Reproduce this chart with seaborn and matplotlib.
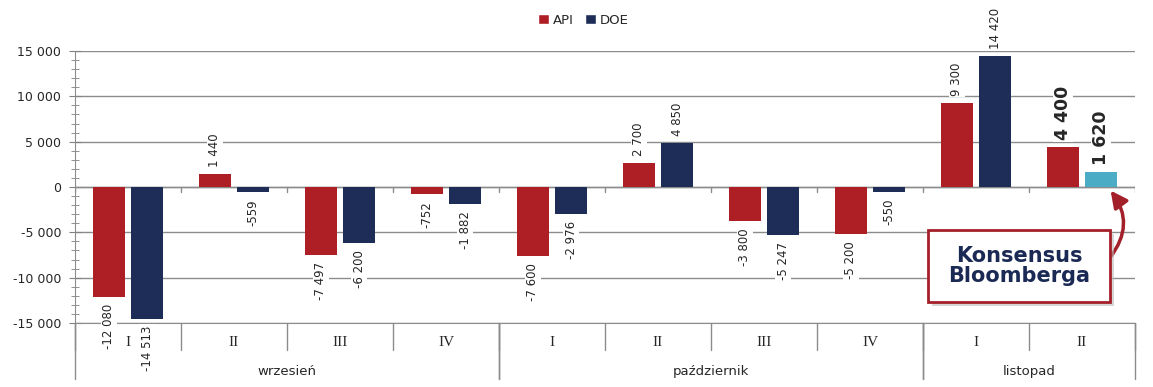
import pandas as pd
import matplotlib
matplotlib.use("Agg")
import matplotlib.pyplot as plt
import matplotlib.transforms as mtransforms
from matplotlib.patches import Patch, Rectangle
from matplotlib.ticker import FuncFormatter, MultipleLocator
import seaborn as sns

# --- data ---
weeks = ["I", "II", "III", "IV", "I", "II", "III", "IV", "I", "II"]
months = ["wrzesień", "październik", "listopad"]
month_sizes = [4, 4, 2]
api = [-12080, 1440, -7497, -752, -7600, 2700, -3800, -5200, 9300, 4400]
doe = [-14513, -559, -6200, -1882, -2976, 4850, -5247, -550, 14420, 1620]

API_COLOR = "#AE1F25"
DOE_COLOR = "#1E2C58"
CONS_COLOR = "#4BACC6"
BOX_RED = "#A3202A"

slots = [f"w{i}" for i in range(len(weeks))]
df = pd.DataFrame({
    "slot": slots * 2,
    "series": ["API"] * len(api) + ["DOE"] * len(doe),
    "value": api + doe,
})

sns.set_style("white")
plt.rcParams["font.family"] = ["DejaVu Sans"]

fig = plt.figure(figsize=(11.53, 3.87), dpi=100)
ax = fig.add_axes([75 / 1153, 1 - 323 / 387, 1060 / 1153, 272 / 387])

sns.barplot(data=df, x="slot", y="value", hue="series", order=slots,
            hue_order=["API", "DOE"], palette=[API_COLOR, DOE_COLOR],
            width=0.72, gap=0.18, saturation=1, legend=False, ax=ax,
            linewidth=0, edgecolor="none", zorder=3)

# last DOE bar is the Bloomberg consensus
ax.containers[1][-1].set_facecolor(CONS_COLOR)

ax.set_xlim(-0.5, len(weeks) - 0.5)
ax.set_ylim(-15000, 15000)
ax.yaxis.set_major_locator(MultipleLocator(5000))
ax.yaxis.set_minor_locator(MultipleLocator(1000))
ax.yaxis.set_major_formatter(FuncFormatter(lambda v, p: f"{int(v):,}".replace(",", " ")))
ax.tick_params(axis="y", which="both", direction="inout", color="#808080", left=True)
ax.tick_params(axis="y", which="major", length=8, labelsize=9, pad=6)
ax.tick_params(axis="y", which="minor", length=6)
ax.set_xticks([])
ax.set_xlabel("")
ax.set_ylabel("")
ax.grid(axis="y", color="#8C8C8C", lw=1, zorder=0)
for s in ["top", "right"]:
    ax.spines[s].set_visible(False)
for s in ["left", "bottom"]:
    ax.spines[s].set_color("#8C8C8C")
ax.axhline(0, color="#8C8C8C", lw=1, zorder=2)

# value labels
for ci, cont in enumerate(ax.containers):
    for bi, bar in enumerate(cont):
        h = bar.get_height()
        xc = bar.get_x() + bar.get_width() / 2
        last = bi == len(cont) - 1
        txt = f"{int(h):,}".replace(",", " ")
        ax.annotate(txt, xy=(xc, h), xytext=(0, 5 if h > 0 else -5),
                    textcoords="offset points", rotation=90, ha="center",
                    va="bottom" if h > 0 else "top",
                    fontsize=12.5 if last else 8.5,
                    fontweight="bold" if last else "normal",
                    bbox=dict(fc="white", ec="none", pad=1), zorder=4,
                    annotation_clip=False)

# category axis: tick marks at zero line and two-level labels below
trans = mtransforms.blended_transform_factory(ax.transData, ax.transAxes)
for k in range(len(weeks) + 1):
    xb = k - 0.5
    ax.plot([xb, xb], [0, -600], color="#8C8C8C", lw=1, zorder=2)
    ax.plot([xb, xb], [0, -0.1], color="#8C8C8C", lw=1, transform=trans, clip_on=False)
for i, w in enumerate(weeks):
    ax.text(i, -0.072, w, transform=trans, ha="center", va="center",
            fontsize=11, family="Liberation Serif")
start = 0
for m, n in zip(months, month_sizes):
    for xb in (start - 0.5, start + n - 0.5):
        ax.plot([xb, xb], [0, -0.206], color="#8C8C8C", lw=1, transform=trans, clip_on=False)
    ax.text(start + (n - 1) / 2, -0.178, m, transform=trans, ha="center",
            va="center", fontsize=9.5)
    start += n

# legend
handles = [Patch(fc=API_COLOR, label="API"), Patch(fc=DOE_COLOR, label="DOE")]
fig.legend(handles=handles, loc="center", bbox_to_anchor=(0.506, 0.948), ncol=2,
           frameon=False, fontsize=9.5, handlelength=0.8, handleheight=0.8,
           handletextpad=0.3, columnspacing=0.9)

# callout box
bx0, by0, bx1, by1 = 928, 230, 1110, 302
fig.patches.append(Rectangle(((bx0 + 4) / 1153, 1 - (by1 + 4) / 387),
                             (bx1 - bx0) / 1153, (by1 - by0) / 387,
                             transform=fig.transFigure, fc="#BBBBBB", ec="none",
                             alpha=0.6, zorder=5))
fig.patches.append(Rectangle((bx0 / 1153, 1 - by1 / 387),
                             (bx1 - bx0) / 1153, (by1 - by0) / 387,
                             transform=fig.transFigure, fc="white", ec=BOX_RED,
                             lw=2, zorder=6))
fig.text((bx0 + bx1) / 2 / 1153, 1 - (by0 + by1) / 2 / 387, "Konsensus\nBloomberga",
         ha="center", va="center", fontsize=15, fontweight="bold",
         color="#1B2A55", linespacing=1.05, zorder=7)

cons = ax.containers[1][-1]
tip_x = cons.get_x() + cons.get_width() * 0.75
ax.annotate("", xy=(tip_x, -150), xytext=(9.25, -8000),
            arrowprops=dict(arrowstyle="-|>,head_length=1.0,head_width=0.5",
                            connectionstyle="arc3,rad=0.4", color=BOX_RED, lw=2.5),
            annotation_clip=False, zorder=8)

fig.savefig("out.png", dpi=100, facecolor="white")
